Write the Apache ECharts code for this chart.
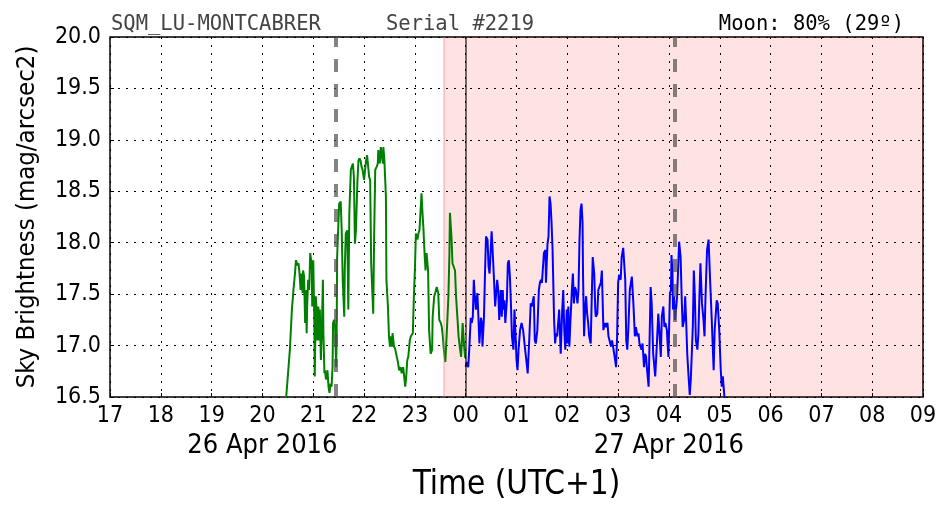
<!DOCTYPE html>
<html><head><meta charset="utf-8">
<script src="https://cdn.jsdelivr.net/npm/echarts@6/dist/echarts.min.js"></script>
<style>html,body{margin:0;padding:0;background:#fff}#c{width:952px;height:512px}</style>
</head><body><div id="c"></div>
<script>
// hours since 00:00 on 26 Apr 2016 (24+ = 27 Apr)
const greenTimes = [20.46,20.54,20.58,20.61,20.64,20.66,20.69,20.71,20.73,20.75,20.77,20.79,20.80,20.82,20.84,20.86,20.87,20.88,20.90,20.92,20.94,20.95,20.97,20.98,21.00,21.02,21.03,21.05,21.07,21.08,21.10,21.12,21.13,21.15,21.17,21.19,21.20,21.22,21.23,21.25,21.28,21.30,21.32,21.34,21.36,21.38,21.39,21.41,21.43,21.45,21.46,21.47,21.51,21.54,21.56,21.58,21.61,21.62,21.64,21.67,21.69,21.71,21.74,21.76,21.78,21.80,21.82,21.84,21.87,21.89,21.91,21.93,21.95,21.97,22.00,22.02,22.04,22.06,22.08,22.10,22.12,22.14,22.16,22.18,22.20,22.22,22.25,22.27,22.28,22.30,22.31,22.33,22.35,22.37,22.38,22.40,22.43,22.44,22.47,22.49,22.51,22.53,22.55,22.56,22.59,22.61,22.64,22.67,22.69,22.72,22.74,22.77,22.81,22.83,22.85,22.87,22.90,22.92,22.96,22.98,23.00,23.02,23.05,23.07,23.09,23.11,23.13,23.15,23.17,23.19,23.21,23.23,23.26,23.28,23.31,23.34,23.35,23.38,23.40,23.43,23.46,23.48,23.51,23.53,23.55,23.57,23.60,23.63,23.66,23.68,23.69,23.72,23.74,23.77,23.79,23.81,23.84,23.86,23.89,23.91,23.94,23.97,23.99];
const greenValues = [16.45,16.96,17.35,17.54,17.70,17.83,17.78,17.80,17.70,17.54,17.70,17.51,17.73,17.67,17.22,17.54,17.12,17.38,17.64,17.54,17.90,17.86,17.80,17.38,17.83,17.28,16.70,17.48,17.31,17.05,17.38,17.05,17.35,16.86,17.18,17.64,17.12,16.73,16.76,16.67,16.76,16.60,16.54,16.63,16.60,16.79,17.22,17.25,17.18,16.79,17.05,17.86,18.38,18.40,18.12,17.64,17.28,17.73,18.09,18.12,17.35,18.29,18.71,18.74,18.77,18.64,17.99,18.12,18.61,18.80,18.82,18.80,18.74,18.71,18.61,18.71,18.80,18.85,18.84,18.64,18.61,17.80,17.80,17.31,18.12,18.71,18.74,18.77,18.90,18.84,18.77,18.93,18.92,18.77,18.93,18.80,18.45,17.64,17.38,17.09,16.99,17.09,16.99,17.12,16.99,16.97,16.90,16.83,16.76,16.79,16.73,16.79,16.60,16.70,16.86,16.89,17.05,17.09,17.12,17.48,17.73,18.09,18.03,18.09,18.12,18.29,18.48,18.29,18.12,17.90,17.73,17.90,17.73,17.15,16.92,16.96,17.28,17.48,17.51,17.57,17.51,17.25,17.22,17.18,17.09,16.96,16.84,17.15,17.48,17.90,18.29,18.06,17.80,17.80,17.73,17.48,17.25,17.09,16.96,16.89,17.22,16.99,16.88];
const blueTimes = [24.00,24.02,24.05,24.07,24.10,24.12,24.14,24.16,24.18,24.20,24.23,24.25,24.27,24.30,24.32,24.33,24.36,24.38,24.40,24.43,24.45,24.47,24.49,24.51,24.53,24.56,24.58,24.60,24.62,24.64,24.66,24.69,24.71,24.73,24.74,24.76,24.78,24.81,24.83,24.85,24.87,24.89,24.91,24.94,24.96,24.98,25.00,25.02,25.04,25.07,25.10,25.13,25.17,25.20,25.22,25.25,25.28,25.30,25.32,25.34,25.36,25.38,25.41,25.44,25.46,25.48,25.50,25.52,25.54,25.57,25.58,25.61,25.63,25.65,25.67,25.69,25.71,25.74,25.76,25.78,25.80,25.82,25.84,25.87,25.90,25.92,25.94,25.96,25.99,26.00,26.02,26.04,26.06,26.09,26.11,26.13,26.15,26.17,26.20,26.22,26.24,26.26,26.28,26.30,26.31,26.33,26.35,26.37,26.39,26.41,26.43,26.46,26.48,26.50,26.53,26.55,26.56,26.59,26.61,26.63,26.66,26.68,26.69,26.71,26.74,26.76,26.79,26.81,26.84,26.86,26.88,26.91,26.94,26.96,26.98,27.00,27.02,27.05,27.07,27.10,27.14,27.16,27.18,27.20,27.23,27.27,27.30,27.33,27.35,27.38,27.40,27.42,27.44,27.46,27.48,27.51,27.53,27.55,27.57,27.60,27.61,27.64,27.66,27.69,27.73,27.76,27.79,27.81,27.84,27.86,27.89,27.91,27.93,27.96,27.97,27.99,28.02,28.04,28.05,28.07,28.08,28.10,28.12,28.15,28.16,28.18,28.20,28.23,28.25,28.27,28.30,28.32,28.34,28.36,28.39,28.41,28.43,28.47,28.49,28.51,28.53,28.56,28.58,28.60,28.62,28.65,28.68,28.70,28.72,28.75,28.78,28.81,28.84,28.86,28.88,28.90,28.94,28.96,28.99,29.02,29.04,29.06,29.08,29.10];
const blueValues = [16.80,16.84,16.79,16.96,17.27,17.22,17.28,17.64,17.48,17.35,17.51,17.28,17.02,17.27,17.22,16.99,17.28,17.70,18.06,18.03,17.77,17.70,17.90,18.11,17.93,17.61,17.38,17.38,17.64,17.54,17.25,17.54,17.28,17.54,17.35,17.44,17.22,17.44,17.80,17.83,17.67,17.41,17.09,16.96,17.35,17.12,16.86,16.76,16.96,17.15,17.22,17.15,16.96,16.83,16.73,17.05,17.41,17.38,17.39,17.48,17.05,17.02,17.15,17.54,17.61,17.64,17.61,17.61,17.90,17.93,17.61,17.99,18.06,18.45,18.38,18.19,17.93,17.25,17.02,17.12,17.09,17.22,17.35,16.92,17.35,17.54,17.15,16.96,17.35,17.02,17.38,16.99,17.22,17.54,17.70,17.41,17.57,17.54,17.41,17.54,18.03,18.32,18.38,18.19,17.67,17.09,17.35,17.48,17.31,17.22,17.09,17.02,17.44,17.86,17.70,17.35,17.28,17.31,17.54,17.57,17.61,17.73,17.54,17.15,17.22,17.18,17.22,17.09,17.09,16.99,17.05,16.96,16.86,16.79,17.09,17.61,17.69,17.64,17.86,17.95,17.64,17.05,16.96,17.15,17.54,17.67,17.41,17.09,17.18,17.09,17.12,17.02,17.01,16.96,17.02,16.79,16.92,16.89,16.76,16.60,16.83,17.57,17.41,16.92,16.70,16.99,17.31,17.15,16.89,17.28,17.38,17.18,17.22,17.15,17.05,16.89,17.51,17.54,17.88,17.70,17.35,17.48,17.25,17.41,17.48,17.73,18.01,17.86,17.48,17.18,17.25,17.48,17.22,16.92,16.67,16.52,16.67,17.18,17.73,17.48,17.05,16.96,17.12,17.48,17.80,17.41,17.25,17.09,17.48,17.93,18.03,17.64,17.28,17.02,16.76,17.15,17.44,17.41,17.15,16.76,16.60,16.70,16.70,16.45];
const xTicks = {min: 17, max: 33, step: 1};
const yTicks = {min: 16.5, max: 20.0, step: 0.5};
const dateLabels = {20: '26 Apr 2016', 28: '27 Apr 2016'};
const twilightStart = 23.57;   // shaded (moon) region start
const midnight = 24;
const sunLines = [21.45, 28.12];
const titleLeft = 'SQM_LU-MONTCABRER';
const titleMid = 'Serial #2219';
const titleRight = 'Moon: 80% (29º)';
const yName = 'Sky Brightness (mag/arcsec2)';
const xName = 'Time (UTC+1)';

const FONT = '"DejaVu Sans Condensed", "DejaVu Sans", sans-serif';
const MONO = '"DejaVu Sans Mono", monospace';
const pad = n => (n < 10 ? '0' : '') + n;

const chart = echarts.init(document.getElementById('c'), null, {renderer: 'canvas'});
chart.setOption({
  animation: false,
  backgroundColor: '#fff',
  title: [
    {text: titleLeft, left: 106, top: 9, textStyle: {fontFamily: MONO, fontSize: 20.5, fontWeight: 'normal', color: '#444'}},
    {text: titleMid, left: 381, top: 9, textStyle: {fontFamily: MONO, fontSize: 20.5, fontWeight: 'normal', color: '#444'}},
    {text: titleRight, right: 43, top: 9, textStyle: {fontFamily: MONO, fontSize: 20.5, fontWeight: 'normal', color: '#000'}}
  ],
  grid: {left: 110, right: 29, top: 37, bottom: 115, show: true, borderColor: '#000', borderWidth: 1.5, backgroundColor: 'transparent'},
  xAxis: [{
    type: 'value', min: xTicks.min, max: xTicks.max, interval: xTicks.step,
    axisLine: {show: false}, axisTick: {show: true, inside: true, length: 4, lineStyle: {color: '#000'}},
    axisLabel: {fontFamily: FONT, fontSize: 23, color: '#000', margin: 8, formatter: v => pad(((v % 24) + 24) % 24)},
    splitLine: {show: true, lineStyle: {color: '#000', width: 1, type: [2, 6]}},
    name: xName, nameLocation: 'middle', nameGap: 72,
    nameTextStyle: {fontFamily: FONT, fontSize: 33, color: '#000'}
  }, {
    type: 'value', min: xTicks.min, max: xTicks.max, interval: xTicks.step, position: 'bottom', offset: 27,
    axisLine: {show: false}, axisTick: {show: false}, splitLine: {show: false},
    axisLabel: {fontFamily: FONT, fontSize: 27, color: '#000', margin: 8, formatter: v => dateLabels[v] || ''}
  }],
  yAxis: {
    type: 'value', min: yTicks.min, max: yTicks.max, interval: yTicks.step,
    axisLine: {show: false}, axisTick: {show: true, inside: true, length: 4, lineStyle: {color: '#000'}},
    axisLabel: {fontFamily: FONT, fontSize: 23, color: '#000', margin: 9, formatter: v => v.toFixed(1)},
    splitLine: {show: true, lineStyle: {color: '#000', width: 1, type: [2, 6]}},
    name: yName, nameLocation: 'middle', nameGap: 70, nameRotate: 90,
    nameTextStyle: {fontFamily: FONT, fontSize: 25.5, color: '#000'}
  },
  series: [
    {
      type: 'line', name: 'shade', data: [], silent: true,
      markArea: {silent: true, itemStyle: {color: 'rgba(255,0,0,0.115)', borderWidth: 0},
        data: [[{xAxis: twilightStart}, {xAxis: xTicks.max}]]},
      markLine: {silent: true, symbol: 'none', label: {show: false},
        data: [
          {xAxis: twilightStart, lineStyle: {color: 'rgba(255,120,120,0.3)', width: 2, type: 'solid'}},
          {xAxis: midnight, lineStyle: {color: 'rgba(0,0,0,0.55)', width: 2, type: 'solid'}},
          {xAxis: sunLines[0], lineStyle: {color: 'rgba(80,80,80,0.7)', width: 4, type: [13, 12]}},
          {xAxis: sunLines[1], lineStyle: {color: 'rgba(80,80,80,0.7)', width: 4, type: [13, 12]}}
        ]}
    },
    {type: 'line', name: 'green', data: greenTimes.map((t, i) => [t, greenValues[i]]), showSymbol: false,
      lineStyle: {color: '#008000', width: 2}, itemStyle: {color: '#008000'}, clip: true, z: 3},
    {type: 'line', name: 'blue', data: blueTimes.map((t, i) => [t, blueValues[i]]), showSymbol: false,
      lineStyle: {color: '#0000ff', width: 2}, itemStyle: {color: '#0000ff'}, clip: true, z: 3}
  ]
});
</script></body></html>
